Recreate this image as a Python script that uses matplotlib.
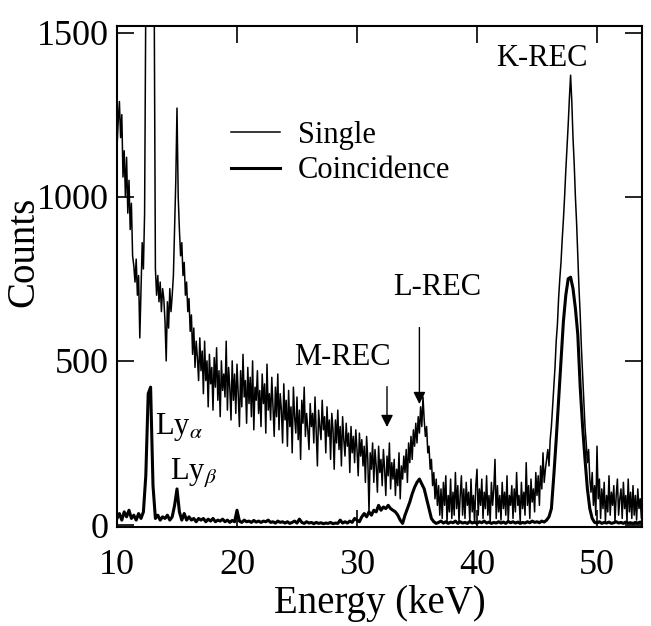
import numpy as np
import matplotlib
matplotlib.use('Agg')
import matplotlib.pyplot as plt

plt.rcParams['font.family'] = ['Liberation Serif', 'DejaVu Serif']
plt.rcParams['mathtext.fontset'] = 'stix'

# single spectrum, 0.1 keV bins starting at 10.0 keV
single = [
    1150, 1230, 1290, 1180, 1250, 1060, 1140, 1000, 1120, 950,
    1050, 900, 980, 820, 790, 740, 810, 700, 760, 570,
    720, 860, 780, 950, 1600, 2200, 2600, 2800, 2700, 2400,
    2000, 1600, 780, 700, 760, 680, 740, 650, 720, 690,
    620, 500, 680, 600, 720, 650, 700, 760, 900, 1050,
    1270, 1000, 900, 820, 860, 760, 800, 700, 740, 650,
    690, 590, 640, 520, 600, 480, 560, 510, 440, 570,
    470, 530, 400, 560, 440, 500, 360, 520, 430, 480,
    350, 510, 420, 540, 380, 470, 330, 500, 410, 460,
    390, 560, 350, 480, 420, 320, 500, 380, 460, 340,
    490, 400, 300, 470, 360, 520, 390, 440, 310, 480,
    370, 450, 330, 500, 290, 420, 380, 470, 340, 410,
    300, 460, 370, 430, 280, 490, 350, 400, 320, 450,
    360, 270, 420, 330, 460, 290, 400, 350, 250, 430,
    320, 380, 240, 410, 300, 360, 220, 420, 330, 280,
    390, 260, 350, 200, 380, 310, 420, 270, 340, 290,
    230, 370, 300, 340, 250, 390, 280, 180, 350, 300,
    260, 380, 290, 330, 220, 360, 270, 320, 200, 340,
    290, 170, 320, 250, 350, 230, 300, 180, 330, 260,
    210, 310, 240, 280, 160, 300, 220, 270, 190, 290,
    230, 150, 280, 210, 260, 180, 240, 130, 270, 200,
    40, 220, 170, 250, 130, 230, 180, 100, 240, 160,
    200, 120, 230, 170, 90, 210, 150, 250, 110, 190,
    140, 200, 90, 170, 120, 220, 80, 180, 140, 210,
    160, 230, 130, 250, 190, 270, 200, 290, 240, 310,
    250, 330, 280, 360, 300, 390, 320, 270, 300, 220,
    240, 170, 200, 120, 160, 80, 140, 60, 120, 30,
    110, 20, 130, 60, 150, 10, 90, 40, 140, 20,
    100, 30, 160, 50, 120, 10, 90, 150, 30, 110,
    20, 130, 60, 100, 10, 140, 40, 90, 5, 120,
    170, 30, 110, 60, 140, 20, 100, 50, 150, 30,
    90, 10, 130, 60, 110, 200, 20, 120, 40, 90,
    15, 130, 50, 100, 30, 150, 10, 90, 60, 120,
    20, 110, 40, 160, 60, 90, 10, 130, 50, 100,
    30, 190, 60, 120, 20, 140, 70, 110, 40, 160,
    90, 150, 60, 180, 110, 220, 130, 170, 200, 230,
    180, 260, 300, 360, 420, 480, 560, 610, 690, 750,
    800, 870, 930, 1000, 1080, 1150, 1220, 1300, 1370, 1290,
    1180, 1100, 1000, 920, 820, 720, 640, 540, 460, 380,
    300, 250, 190, 230, 140, 100, 160, 60, 120, 30,
    240, 80, 140, 20, 110, 50, 130, 10, 90, 40,
    150, 30, 100, 60, 120, 10, 90, 140, 30, 80,
    110, 20, 130, 50, 90, 10, 140, 40, 100, 20,
    120, 30, 90, 15, 110, 50, 80, 20, 60,
]

# coincidence spectrum, 0.2 keV bins starting at 10.0 keV
coincidence = [
    20, 35, 15, 40, 25,
    45, 20, 30, 15, 35,
    20, 40, 150, 400, 420,
    120, 20, 30, 15, 25,
    20, 30, 15, 25, 60,
    110, 40, 15, 35, 15,
    25, 15, 20, 10, 20,
    15, 20, 10, 18, 12,
    20, 10, 15, 12, 18,
    10, 15, 8, 14, 10,
    45, 12, 8, 15, 10,
    12, 8, 14, 9, 12,
    8, 12, 10, 15, 8,
    10, 6, 12, 8, 10,
    6, 10, 5, 8, 12,
    6, 18, 8, 5, 10,
    6, 8, 4, 8, 5,
    7, 4, 6, 5, 8,
    4, 6, 5, 15, 6,
    10, 6, 12, 8, 20,
    15, 10, 25, 35, 25,
    40, 30, 45, 40, 60,
    45, 55, 50, 60, 50,
    45, 40, 30, 15, 5,
    30, 50, 70, 95, 115,
    130, 140, 125, 110, 80,
    50, 20, 10, 5, 8,
    12, 6, 10, 5, 9,
    7, 12, 5, 10, 6,
    8, 5, 11, 6, 9,
    5, 10, 7, 12, 6,
    9, 5, 8, 6, 10,
    6, 9, 5, 11, 7,
    10, 6, 9, 5, 8,
    6, 10, 7, 12, 8,
    10, 7, 12, 9, 15,
    25, 50, 150, 260, 380,
    500, 620, 700, 750, 755,
    720, 660, 580, 420, 300,
    200, 110, 50, 20, 8,
    6, 10, 5, 8, 6,
    9, 5, 7, 10, 6,
    8, 5, 9, 6, 7,
    5, 8, 6, 9, 5,
]

e_single = 10.0 + 0.1 * np.arange(len(single))
e_coinc = 10.0 + 0.2 * np.arange(len(coincidence))

fig = plt.figure(figsize=(6.51, 6.26), dpi=100)
ax = fig.add_axes([117/651, 99/626, 525/651, 501/626])

ax.plot(e_single, single, color='black', lw=1.1, label='Single')
ax.plot(e_coinc, coincidence, color='black', lw=2.2, label='Coincidence')

ax.set_xlim(10, 53.75)
ax.set_ylim(-6, 1520)
ax.set_xticks([10, 20, 30, 40, 50])
ax.set_yticks([0, 500, 1000, 1500])
ax.tick_params(direction='in', length=12, width=1.2, top=True, right=True,
               labelsize=26)
ax.tick_params(axis='x', pad=16)
ax.tick_params(axis='y', pad=6)
for s in ax.spines.values():
    s.set_linewidth(1.5)

ax.set_xlabel('Energy (keV)', fontsize=28, labelpad=2)
ax.set_ylabel('Counts', fontsize=28)
ax.yaxis.set_label_coords(-0.143, 0.55)

ax.legend(loc='upper left', bbox_to_anchor=(0.217, 0.81), frameon=False,
          fontsize=22, handlelength=1.6, handletextpad=0.6, labelspacing=0.2,
          borderaxespad=0, borderpad=0)

ax.text(45.4, 1420, 'K-REC', fontsize=22, ha='center', va='center')
ax.annotate('', xy=(35.2, 360), xytext=(35.2, 610),
            arrowprops=dict(arrowstyle='-|>', color='black', lw=1.0, mutation_scale=18))
ax.text(36.7, 725, 'L-REC', fontsize=22, ha='center', va='center')
ax.annotate('', xy=(32.5, 290), xytext=(32.5, 430),
            arrowprops=dict(arrowstyle='-|>', color='black', lw=1.0, mutation_scale=18))
ax.text(28.8, 510, 'M-REC', fontsize=22, ha='center', va='center')
ax.text(13.15, 300, r'Ly$_{\alpha}$', fontsize=22, ha='left', va='center')
ax.text(14.4, 160, r'Ly$_{\beta}$', fontsize=22, ha='left', va='center')

fig.savefig('out.png', dpi=100)
